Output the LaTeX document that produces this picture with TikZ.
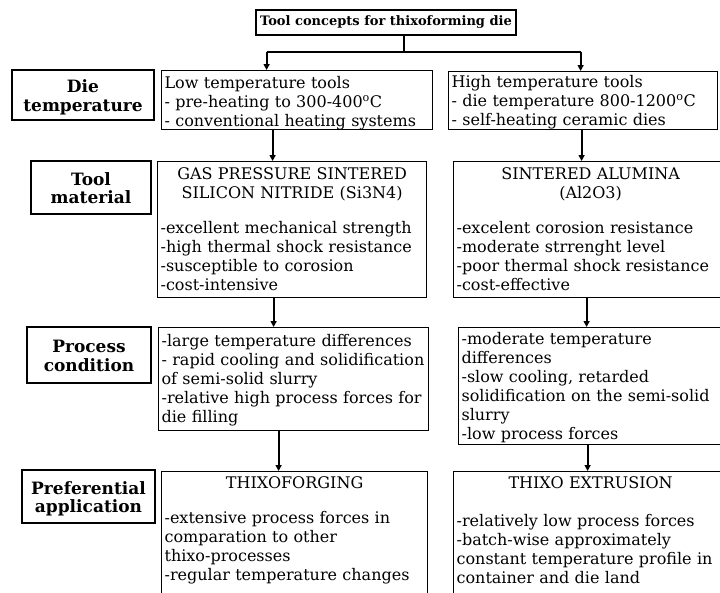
\documentclass[tikz,border=0pt]{standalone}
\usepackage{fontspec}
\setmainfont{DejaVu Serif}
\usetikzlibrary{arrows.meta}
\begin{document}
\begin{tikzpicture}[x=1pt,y=-1pt,
  lab/.style={draw=black, line width=1.2pt, align=center, inner sep=0pt,
    text height=36pt, text depth=4pt,
    font=\bfseries\fontsize{17}{18.5}\selectfont},
  cbox/.style={draw=black, line width=1.2pt, anchor=north west, align=left,
    inner xsep=3pt, inner ysep=0pt, font=\fontsize{16}{19}\selectfont},
  conn/.style={line width=2.2pt},
  arr/.style={line width=2.2pt, -{Triangle[width=6pt,length=6pt]}}
]
\useasboundingbox (0,0) rectangle (720,592);
\clip (0,0) rectangle (720,592);
\fill[white] (0,0) rectangle (720,592);

% title
\node[draw=black, line width=1.2pt, minimum width=260pt, minimum height=25pt, inner sep=0pt,
  font=\bfseries\fontsize{13}{14}\selectfont] (title) at (386,22.5) {Tool concepts for thixoforming die};

% row labels
\node[lab, minimum width=142pt, minimum height=50pt] (L1) at (83,95) {Die\\temperature};
\node[lab, minimum width=120pt, minimum height=53pt] (L2) at (91,187.5) {Tool\\material};
\node[lab, minimum width=124pt, minimum height=56pt] (L3) at (89,355) {Process\\condition};
\node[lab, minimum width=133pt, minimum height=53pt] (L4) at (88.5,496.5) {Preferential\\application};

% row 1
\node[cbox, text width=265pt, text height=18pt, text depth=41pt] (B1L) at (161,70)
  {Low temperature tools\\- pre-heating to 300-400\textsuperscript{o}C\\\mbox{- conventional heating systems}};
\node[cbox, text width=263pt, text height=16pt, text depth=42pt] (B1R) at (448,71)
  {High temperature tools\\\mbox{- die temperature 800-1200\textsuperscript{o}C}\\- self-heating ceramic dies};

% row 2
\node[cbox, text width=263pt, text height=18pt, text depth=118pt] (B2L) at (157,161)
  {\makebox[\linewidth]{GAS PRESSURE SINTERED}\\\makebox[\linewidth]{SILICON NITRIDE (Si3N4)}\\[16pt]
   \mbox{-excellent mechanical strength}\\\mbox{-high thermal shock resistance}\\-susceptible to corosion\\-cost-intensive};
\node[cbox, text width=268pt, text height=18pt, text depth=118pt] (B2R) at (453,161)
  {\makebox[\linewidth]{SINTERED ALUMINA}\\\makebox[\linewidth]{(Al2O3)}\\[16pt]
   -excelent corosion resistance\\-moderate strrenght level\\\mbox{-poor thermal shock resistance}\\-cost-effective};

% row 3
\node[cbox, text width=264pt, text height=19pt, text depth=84pt] (B3L) at (158,327)
  {\mbox{-large temperature differences}\\\mbox{- rapid cooling and solidification}\\of semi-solid slurry\\\mbox{-relative high process forces for}\\die filling};
\node[cbox, text width=263pt, text height=17pt, text depth=100pt] (B3R) at (458,327)
  {-moderate temperature\\differences\\-slow cooling, retarded\\\mbox{solidification on the semi-solid}\\slurry\\-low process forces};

% row 4
\node[cbox, text width=260pt, text height=17pt, text depth=112pt] (B4L) at (161,471)
  {\makebox[\linewidth]{THIXOFORGING}\\[16pt]
   -extensive process forces in\\comparation to other\\thixo-processes\\\mbox{-regular temperature changes}};
\node[cbox, text width=268pt, text height=17pt, text depth=112pt] (B4R) at (453,471)
  {\makebox[\linewidth]{THIXO EXTRUSION}\\[19pt]
   \mbox{-relatively low process forces}\\-batch-wise approximately\\\mbox{constant temperature profile in}\\container and die land};

% connectors
\coordinate (hub) at (404,52);
\draw[conn] ([xshift=18pt]title.south) -- (hub);
\draw[conn] ([xshift=-30.5pt]B1L.north |- hub) -- ([xshift=-2.5pt]B1R.north |- hub);
\draw[arr] ([xshift=-30.5pt]B1L.north |- hub) -- ([xshift=-30.5pt]B1L.north);
\draw[arr] ([xshift=-2.5pt]B1R.north |- hub) -- ([xshift=-2.5pt]B1R.north);

\draw[arr] ([xshift=-24.5pt]B1L.south) -- ([xshift=-24.5pt]B1L.south |- B2L.north);
\draw[arr] ([xshift=-1.5pt]B1R.south) -- ([xshift=-1.5pt]B1R.south |- B2R.north);
\draw[arr] ([xshift=-18.5pt]B2L.south) -- ([xshift=-18.5pt]B2L.south |- B3L.north);
\draw[arr] ([xshift=-4pt]B2R.south) -- ([xshift=-4pt]B2R.south |- B3R.north);
\draw[arr] ([xshift=-15pt]B3L.south) -- ([xshift=-15pt]B3L.south |- B4L.north);
\draw[arr] ([xshift=-5.5pt]B3R.south) -- ([xshift=-5.5pt]B3R.south |- B4R.north);
\end{tikzpicture}
\end{document}
